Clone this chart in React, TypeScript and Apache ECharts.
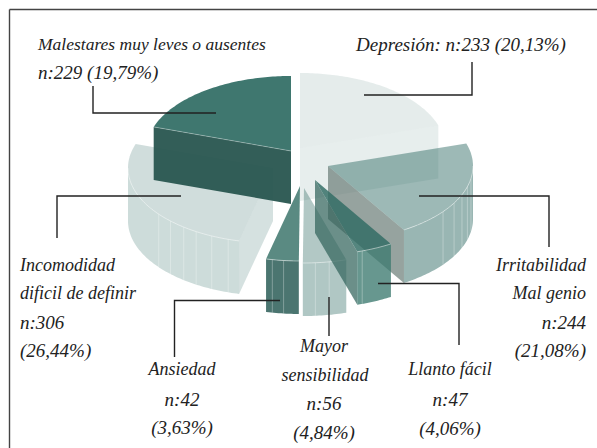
import React, { useEffect, useRef } from "react";
import * as echarts from "echarts";

// Data, clockwise from the top of the pie
const categories = ["Depresión", "Irritabilidad", "Llanto fácil", "Mayor sensibilidad", "Ansiedad", "Incomodidad", "Malestares"];
const counts = [233, 244, 47, 56, 42, 306, 229];

// Layout and style, one entry per category
const apexes = [[300, 148], [328, 166], [315, 180], [304, 188], [300, 186], [273, 168], [291, 151]];
const topColors = ["rgba(47,107,99,0.125)", "rgba(47,107,99,0.47)", "rgba(47,107,99,0.82)", "rgba(47,107,99,0.37)", "#5a8a82", "rgba(47,107,99,0.226)", "rgba(47,107,99,0.92)"];
const sideColors = ["rgba(47,107,99,0.125)", "rgba(47,107,99,0.49)", "rgba(60,122,112,0.78)", "rgba(47,107,99,0.38)", "#4b7570", "rgba(47,107,99,0.24)", "rgba(47,107,99,0.92)"];
const faceColors = ["rgba(47,107,99,0.115)", "rgba(110,128,122,0.72)", "rgba(50,100,92,0.72)", "rgba(47,107,99,0.3)", "#4b7570", "rgba(47,107,99,0.2)", "rgba(40,85,79,0.95)"];
const facetAngles = [[], [99.6, 106, 112.5, 119.6, 127.5], [161], [170, 175.5], [186.5, 191], [198, 205, 212, 218, 225, 232], []];
const drawOrder = [0, 5, 6, 1, 3, 2, 4];

const RX = 145, RY = 75, DEPTH = 53;

const pt = (c: number[], deg: number, dy = 0) => {
  const r = (deg * Math.PI) / 180;
  return [c[0] + RX * Math.sin(r), c[1] - RY * Math.cos(r) + dy];
};
const arc = (c: number[], a: number, b: number, dy = 0) => {
  const out: number[][] = [];
  for (let d = a; d < b; d += 1) out.push(pt(c, d, dy));
  out.push(pt(c, b, dy));
  return out;
};

const total = counts.reduce((s, v) => s + v, 0);
const starts: number[] = [];
counts.reduce((acc, v, i) => {
  starts[i] = (acc / total) * 360;
  return acc + v;
}, 0);

// text, x, baseline, alignment, font size
const labels: [string, number, number, string, number][] = [
  ["Malestares muy leves o ausentes", 38, 49, "left", 17.5],
  ["n:229 (19,79%)", 38, 77, "left", 19],
  ["Depresión: n:233 (20,13%)", 461, 49, "center", 19],
  ["Incomodidad", 20, 270, "left", 18],
  ["dificil de definir", 20, 298, "left", 18],
  ["n:306", 20, 327, "left", 19],
  ["(26,44%)", 20, 355, "left", 19],
  ["Irritabilidad", 586, 270, "right", 18],
  ["Mal genio", 586, 298, "right", 18],
  ["n:244", 586, 327, "right", 19],
  ["(21,08%)", 586, 355, "right", 19],
  ["Ansiedad", 182, 374, "center", 18],
  ["n:42", 182, 404, "center", 19],
  ["(3,63%)", 182, 432, "center", 19],
  ["Mayor", 324, 351, "center", 18],
  ["sensibilidad", 325, 380, "center", 18],
  ["n:56", 324, 408, "center", 19],
  ["(4,84%)", 324, 437, "center", 19],
  ["Llanto fácil", 450, 374, "center", 18],
  ["n:47", 450, 404, "center", 19],
  ["(4,06%)", 450, 433, "center", 19],
];

const leaders = [
  [[93, 86], [93, 113], [216, 113]],
  [[472, 62], [472, 95], [364, 95]],
  [[57, 238], [57, 196], [181, 196]],
  [[419, 196], [549, 196], [549, 247]],
  [[174.5, 357], [174.5, 300.5], [280, 300.5]],
  [[329, 297], [329, 336]],
  [[378, 283.5], [459, 283.5], [459, 345]],
];

export default function App() {
  const ref = useRef<HTMLDivElement>(null);
  useEffect(() => {
    document.body.style.margin = "0";
    const chart = echarts.init(ref.current!, null, { renderer: "svg" });
    chart.setOption({
      animation: false,
      backgroundColor: "#ffffff",
      series: [
        {
          type: "custom",
          coordinateSystem: "none",
          silent: true,
          data: drawOrder.map((i) => ({ name: categories[i], value: [counts[i], i] })),
          renderItem: (_p: any, api: any) => {
            const i = api.value(1);
            const c = apexes[i];
            const a0 = starts[i];
            const a1 = a0 + (api.value(0) / total) * 360;
            const children: any[] = [];
            // radial faces seen from the front
            const face = (deg: number) => ({
              type: "polygon",
              shape: { points: [c, pt(c, deg), pt(c, deg, DEPTH), [c[0], c[1] + DEPTH]] },
              style: { fill: faceColors[i] },
            });
            if (Math.sin((a1 * Math.PI) / 180) > 0.01) children.push(face(a1));
            if (Math.sin((a0 * Math.PI) / 180) < -0.01) children.push(face(a0));
            // outer wall
            const s0 = Math.max(a0, 90), s1 = Math.min(a1, 270);
            if (s1 > s0) {
              const upper = arc(c, s0, s1);
              const lower = arc(c, s0, s1, DEPTH).reverse();
              children.push({ type: "polygon", shape: { points: [...upper, ...lower] }, style: { fill: sideColors[i] } });
              facetAngles[i].forEach((d) => {
                children.push({
                  type: "line",
                  shape: { x1: pt(c, d)[0], y1: pt(c, d)[1], x2: pt(c, d, DEPTH)[0], y2: pt(c, d, DEPTH)[1] },
                  style: { stroke: "rgba(255,255,255,0.3)", lineWidth: 1 },
                });
              });
            }
            // top surface
            children.push({
              type: "polygon",
              shape: { points: [c, ...arc(c, a0, a1)] },
              style: { fill: topColors[i] },
            });
            if (s1 > s0) {
              children.push({
                type: "polyline",
                shape: { points: arc(c, s0, s1) },
                style: { stroke: "rgba(255,255,255,0.45)", lineWidth: 1, fill: "none" },
              });
            }
            if (Math.sin((a0 * Math.PI) / 180) < -0.9) {
              children.push({
                type: "line",
                shape: { x1: c[0], y1: c[1], x2: pt(c, a0)[0], y2: pt(c, a0)[1] },
                style: { stroke: "rgba(255,255,255,0.3)", lineWidth: 1 },
              });
            }
            return { type: "group", children };
          },
        },
      ],
      graphic: {
        elements: [
          { type: "line", silent: true, shape: { x1: 9.5, y1: 9.5, x2: 597, y2: 9.5 }, style: { stroke: "#444444", lineWidth: 1.4 } },
          { type: "line", silent: true, shape: { x1: 9.5, y1: 9.5, x2: 9.5, y2: 448 }, style: { stroke: "#444444", lineWidth: 1.4 } },
          ...leaders.map((points) => ({
            type: "polyline",
            silent: true,
            z: 10,
            shape: { points },
            style: { stroke: "#222222", lineWidth: 1.4, fill: "none" },
          })),
          ...labels.map(([text, x, y, align, size]) => ({
            type: "text",
            silent: true,
            z: 11,
            x,
            y: y - 5,
            style: {
              text,
              align,
              verticalAlign: "middle",
              font: `italic ${size}px "Liberation Serif", serif`,
              fill: "#222222",
            },
          })),
        ],
      },
    });
    return () => chart.dispose();
  }, []);
  return <div ref={ref} style={{ width: 597, height: 448 }} />;
}
